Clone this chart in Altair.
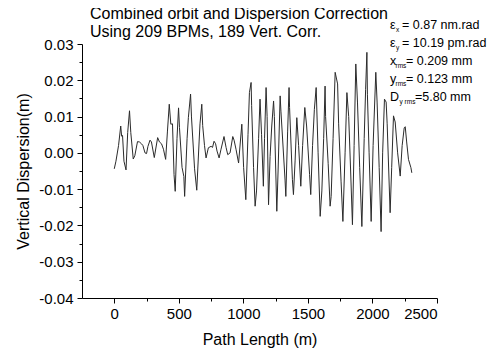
import altair as alt
import pandas as pd

# Path length (m) and vertical dispersion (m)
PATH_M = [0, 13, 33, 50, 57, 64, 75, 91, 104, 118, 128, 147, 159, 180, 195, 211, 222, 238, 250, 261,
          277, 288, 310, 336, 350, 366, 381, 398, 412, 426, 438, 451, 463, 472, 486, 498, 505, 525, 539, 545,
          564, 574, 591, 598, 622, 639, 657, 664, 678, 685, 699, 711, 729, 750, 761, 773, 785, 796, 812, 827,
          850, 866, 879, 897, 918, 928, 943, 963, 988, 1002, 1019, 1036, 1047, 1060, 1064, 1079, 1091, 1102, 1118, 1129,
          1141, 1155, 1164, 1176, 1184, 1195, 1207, 1220, 1234, 1240, 1259, 1269, 1285, 1291, 1323, 1329, 1343, 1354, 1358, 1380,
          1388, 1401, 1414, 1428, 1445, 1459, 1476, 1490, 1513, 1522, 1536, 1550, 1564, 1579, 1595, 1608, 1622, 1633, 1637, 1657,
          1672, 1680, 1695, 1711, 1730, 1738, 1757, 1771, 1788, 1802, 1816, 1831, 1845, 1858, 1871, 1884, 1901, 1918, 1936, 1947,
          1957, 1961, 1974, 1990, 2005, 2026, 2036, 2052, 2067, 2079, 2093, 2106, 2114, 2137, 2149, 2163, 2176, 2195, 2215, 2230,
          2246, 2254, 2265, 2279, 2298, 2305]
DISP = [-0.0044, -0.0023, 0.0020, 0.0074, 0.0046, 0.0048, -0.0023, -0.0047, 0.0056, 0.0116, 0.0056, -0.0017, -0.0008, 0.0031, 0.0030, 0.0025, 0.0020, 0.0000, -0.0002, 0.0018,
        0.0035, 0.0030, -0.0013, 0.0042, 0.0030, 0.0025, 0.0010, -0.0018, 0.0060, 0.0134, 0.0079, 0.0080, -0.0060, -0.0106, 0.0040, 0.0124, 0.0070, -0.0040, -0.0065, -0.0120,
        0.0040, 0.0097, 0.0162, 0.0099, -0.0044, -0.0103, 0.0030, 0.0080, 0.0134, 0.0075, 0.0020, -0.0014, 0.0014, 0.0018, 0.0015, 0.0032, 0.0025, 0.0005, -0.0014, 0.0010,
        0.0045, 0.0015, -0.0005, 0.0000, 0.0045, 0.0035, 0.0010, -0.0028, 0.0079, -0.0040, -0.0129, 0.0050, 0.0166, 0.0194, 0.0130, -0.0040, -0.0147, -0.0105, 0.0040, 0.0148,
        0.0050, -0.0092, 0.0040, 0.0180, 0.0100, -0.0143, -0.0010, 0.0074, 0.0143, 0.0100, -0.0161, -0.0050, 0.0157, 0.0115, -0.0075, -0.0120, 0.0060, 0.0180, 0.0125, -0.0074,
        -0.0115, -0.0020, 0.0097, 0.0020, -0.0092, 0.0020, 0.0125, 0.0074, -0.0060, -0.0115, 0.0020, 0.0120, 0.0180, 0.0000, -0.0175, -0.0105, 0.0040, 0.0184, 0.0100, -0.0030,
        -0.0147, -0.0120, 0.0040, 0.0222, 0.0190, 0.0080, -0.0080, -0.0189, 0.0000, 0.0166, 0.0100, -0.0050, -0.0198, 0.0020, 0.0245, 0.0140, -0.0040, -0.0203, 0.0040, 0.0175,
        0.0277, 0.0160, 0.0000, -0.0189, 0.0020, 0.0222, 0.0140, -0.0040, -0.0217, 0.0000, 0.0148, 0.0140, 0.0080, -0.0165, -0.0040, 0.0102, 0.0085, 0.0000, -0.0064, 0.0020,
        0.0069, 0.0072, 0.0030, -0.0018, -0.0041, -0.0055]

X_TICKS = [0, 250, 500, 750, 1000, 1250, 1500, 1750, 2000, 2250, 2500]
Y_TICKS = [-0.04, -0.035, -0.03, -0.025, -0.02, -0.015, -0.01, -0.005, 0.0, 0.005, 0.01, 0.015, 0.02, 0.025, 0.03]

TITLE_LINES = ["Combined orbit and Dispersion Correction", "Using 209 BPMs, 189 Vert. Corr."]
# (main symbol, subscript, rest of line)
STATS = [("\u03b5", "x", "= 0.87 nm.rad"),
         ("\u03b5", "y", "= 10.19 pm.rad"),
         ("x", "rms", "= 0.209 mm"),
         ("y", "rms", "= 0.123 mm"),
         ("D", "y rms", "=5.80 mm")]

FONT = "Liberation Sans"
df = pd.DataFrame({"path": PATH_M, "disp": DISP})

x_major = "abs(datum.value/500 - round(datum.value/500)) < 1e-6"
y_major = "abs(datum.value*100 - round(datum.value*100)) < 1e-6"

line = alt.Chart(df).mark_line(color="#2b2b2b", strokeWidth=1).encode(
    x=alt.X("path:Q", scale=alt.Scale(domain=[-250, 2500], nice=False, zero=False),
            axis=alt.Axis(title="Path Length (m)", values=X_TICKS, grid=False,
                          labelExpr=f"{x_major} ? format(datum.value, 'd') : ''",
                          tickSize={"condition": {"test": x_major, "value": 5}, "value": 3},
                          labelPadding=3, titlePadding=10)),
    y=alt.Y("disp:Q", scale=alt.Scale(domain=[-0.04, 0.03], nice=False, zero=False),
            axis=alt.Axis(title="Vertical Dispersion(m)", values=Y_TICKS, grid=False,
                          labelExpr=f"{y_major} ? replace(format(datum.value, '.2f'), '\u2212', '-') : ''",
                          tickSize={"condition": {"test": y_major, "value": 5}, "value": 3},
                          labelPadding=4, titlePadding=7)),
)

layers = [line]

def txt(s, x, y, size, align="left"):
    return alt.Chart(pd.DataFrame({"t": [s]})).mark_text(
        align=align, baseline="alphabetic", font=FONT, fontSize=size, color="black"
    ).encode(text="t:N", x=alt.value(x), y=alt.value(y))

# title block (page coords minus plot origin 82,44)
layers.append(txt(TITLE_LINES[0], 8, -25, 16))
layers.append(txt(TITLE_LINES[1], 8, -7, 16))

sub_x = [314, 314, 313.5, 313.5, 317.5]
rest_x = [320, 320, 324, 324, 333]
for i, (sym, sub, rest) in enumerate(STATS):
    base = -15.5 + 18.2 * i
    layers.append(txt(sym, 308, base, 12.5))
    layers.append(txt(sub, sub_x[i], base + 3, 6.5))
    layers.append(txt(rest, rest_x[i], base, 12.5))

chart = alt.layer(*layers).properties(
    width=355, height=254,
    padding={"left": 74, "top": 36, "right": 50, "bottom": 51},
    autosize=alt.AutoSizeParams(type="none"),
).configure_view(stroke=None).configure_axis(
    domainColor="black", tickColor="black", labelColor="black", titleColor="black",
    labelFont=FONT, titleFont=FONT, labelFontSize=15, titleFontSize=16,
    titleFontWeight="normal", domainWidth=1, tickWidth=1,
)

chart.save("out.html", embed_options={"renderer": "svg", "actions": False})
